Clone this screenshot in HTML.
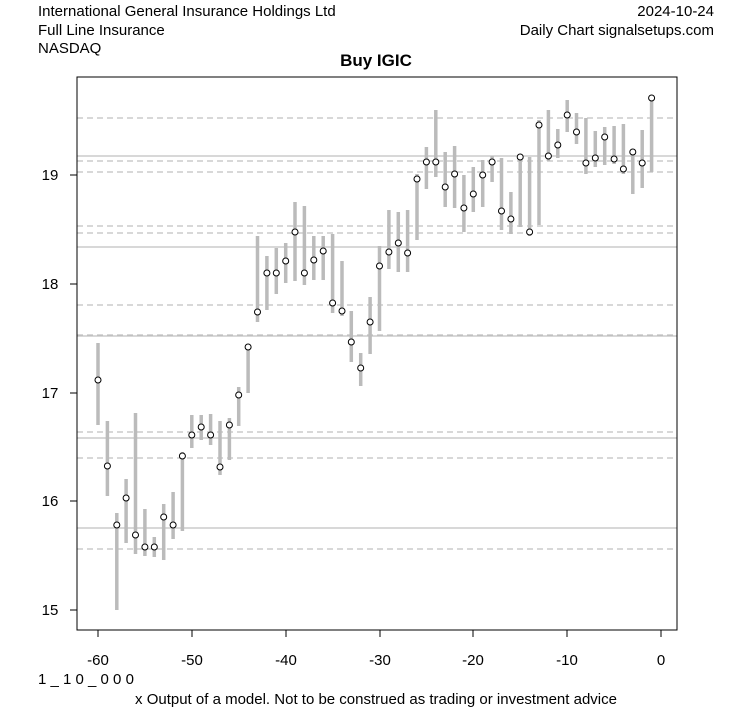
<html><head><style>body{margin:0;background:#fff}</style></head><body>
<svg width="753" height="708" xmlns="http://www.w3.org/2000/svg" font-family="Liberation Sans, sans-serif">
<rect width="753" height="708" fill="#fff"/>
<text x="38" y="16" font-size="15">International General Insurance Holdings Ltd</text>
<text x="38" y="35" font-size="15">Full Line Insurance</text>
<text x="38" y="53" font-size="15">NASDAQ</text>
<text x="714" y="16" font-size="15" text-anchor="end">2024-10-24</text>
<text x="714" y="35" font-size="15" text-anchor="end">Daily Chart signalsetups.com</text>
<text x="376" y="66" font-size="17" font-weight="bold" text-anchor="middle">Buy IGIC</text>
<g stroke="#c0c0c0" stroke-width="1.2">
<line x1="77" x2="677" y1="156" y2="156"/><line x1="77" x2="677" y1="247" y2="247"/><line x1="77" x2="677" y1="336" y2="336"/><line x1="77" x2="677" y1="438" y2="438"/><line x1="77" x2="677" y1="528" y2="528"/>
</g>
<g stroke="#c0c0c0" stroke-width="1.2" stroke-dasharray="6,4">
<line x1="77" x2="677" y1="118" y2="118"/><line x1="77" x2="677" y1="161" y2="161"/><line x1="77" x2="677" y1="172" y2="172"/><line x1="77" x2="677" y1="226" y2="226"/><line x1="77" x2="677" y1="233" y2="233"/><line x1="77" x2="677" y1="305" y2="305"/><line x1="77" x2="677" y1="335" y2="335"/><line x1="77" x2="677" y1="432" y2="432"/><line x1="77" x2="677" y1="458" y2="458"/><line x1="77" x2="677" y1="549" y2="549"/>
</g>
<g stroke="#bbb" stroke-width="3.5">
<line x1="98" x2="98" y1="343" y2="425"/>
<line x1="107.4" x2="107.4" y1="421" y2="496"/>
<line x1="116.8" x2="116.8" y1="513" y2="610"/>
<line x1="126.1" x2="126.1" y1="479" y2="543"/>
<line x1="135.5" x2="135.5" y1="413" y2="554"/>
<line x1="144.9" x2="144.9" y1="509" y2="556"/>
<line x1="154.3" x2="154.3" y1="537" y2="557"/>
<line x1="163.7" x2="163.7" y1="504" y2="560"/>
<line x1="173.1" x2="173.1" y1="492" y2="539"/>
<line x1="182.4" x2="182.4" y1="452" y2="531"/>
<line x1="191.8" x2="191.8" y1="415" y2="448"/>
<line x1="201.2" x2="201.2" y1="415" y2="440"/>
<line x1="210.6" x2="210.6" y1="414" y2="445"/>
<line x1="220" x2="220" y1="421" y2="475"/>
<line x1="229.4" x2="229.4" y1="418" y2="460"/>
<line x1="238.7" x2="238.7" y1="387" y2="426"/>
<line x1="248.1" x2="248.1" y1="345" y2="393"/>
<line x1="257.5" x2="257.5" y1="236" y2="322"/>
<line x1="266.9" x2="266.9" y1="256" y2="310"/>
<line x1="276.3" x2="276.3" y1="248" y2="294"/>
<line x1="285.7" x2="285.7" y1="243" y2="283"/>
<line x1="295" x2="295" y1="202" y2="281"/>
<line x1="304.4" x2="304.4" y1="206" y2="285"/>
<line x1="313.8" x2="313.8" y1="236" y2="280"/>
<line x1="323.2" x2="323.2" y1="236" y2="280"/>
<line x1="332.6" x2="332.6" y1="234" y2="313"/>
<line x1="342" x2="342" y1="261" y2="316"/>
<line x1="351.3" x2="351.3" y1="311" y2="362"/>
<line x1="360.7" x2="360.7" y1="353" y2="386"/>
<line x1="370.1" x2="370.1" y1="297" y2="354"/>
<line x1="379.5" x2="379.5" y1="246" y2="331"/>
<line x1="388.9" x2="388.9" y1="210" y2="269"/>
<line x1="398.3" x2="398.3" y1="212" y2="272"/>
<line x1="407.6" x2="407.6" y1="210" y2="272"/>
<line x1="417" x2="417" y1="174" y2="240"/>
<line x1="426.4" x2="426.4" y1="147" y2="189"/>
<line x1="435.8" x2="435.8" y1="110" y2="177"/>
<line x1="445.2" x2="445.2" y1="152" y2="207"/>
<line x1="454.6" x2="454.6" y1="146" y2="208"/>
<line x1="463.9" x2="463.9" y1="175" y2="232"/>
<line x1="473.3" x2="473.3" y1="167" y2="212"/>
<line x1="482.7" x2="482.7" y1="160" y2="207"/>
<line x1="492.1" x2="492.1" y1="156" y2="182"/>
<line x1="501.5" x2="501.5" y1="158" y2="230"/>
<line x1="510.9" x2="510.9" y1="192" y2="234"/>
<line x1="520.2" x2="520.2" y1="157" y2="227"/>
<line x1="529.6" x2="529.6" y1="157" y2="236"/>
<line x1="539" x2="539" y1="120" y2="225"/>
<line x1="548.4" x2="548.4" y1="110" y2="161"/>
<line x1="557.8" x2="557.8" y1="129" y2="158"/>
<line x1="567.2" x2="567.2" y1="100" y2="132"/>
<line x1="576.5" x2="576.5" y1="113" y2="144"/>
<line x1="585.9" x2="585.9" y1="118" y2="174"/>
<line x1="595.3" x2="595.3" y1="131" y2="167"/>
<line x1="604.7" x2="604.7" y1="127" y2="165"/>
<line x1="614.1" x2="614.1" y1="126" y2="164"/>
<line x1="623.4" x2="623.4" y1="124" y2="174"/>
<line x1="632.8" x2="632.8" y1="149" y2="194"/>
<line x1="642.2" x2="642.2" y1="130" y2="188"/>
<line x1="651.6" x2="651.6" y1="98" y2="172"/>
</g>
<g fill="#fff" stroke="#000" stroke-width="1">
<circle cx="98" cy="380" r="3"/><circle cx="107.4" cy="466" r="3"/><circle cx="116.8" cy="525" r="3"/><circle cx="126.1" cy="498" r="3"/><circle cx="135.5" cy="535" r="3"/><circle cx="144.9" cy="547" r="3"/><circle cx="154.3" cy="547" r="3"/><circle cx="163.7" cy="517" r="3"/><circle cx="173.1" cy="525" r="3"/><circle cx="182.4" cy="456" r="3"/><circle cx="191.8" cy="435" r="3"/><circle cx="201.2" cy="427" r="3"/><circle cx="210.6" cy="435" r="3"/><circle cx="220" cy="467" r="3"/><circle cx="229.4" cy="425" r="3"/><circle cx="238.7" cy="395" r="3"/><circle cx="248.1" cy="347" r="3"/><circle cx="257.5" cy="312" r="3"/><circle cx="266.9" cy="273" r="3"/><circle cx="276.3" cy="273" r="3"/><circle cx="285.7" cy="261" r="3"/><circle cx="295" cy="232" r="3"/><circle cx="304.4" cy="273" r="3"/><circle cx="313.8" cy="260" r="3"/><circle cx="323.2" cy="251" r="3"/><circle cx="332.6" cy="303" r="3"/><circle cx="342" cy="311" r="3"/><circle cx="351.3" cy="342" r="3"/><circle cx="360.7" cy="368" r="3"/><circle cx="370.1" cy="322" r="3"/><circle cx="379.5" cy="266" r="3"/><circle cx="388.9" cy="252" r="3"/><circle cx="398.3" cy="243" r="3"/><circle cx="407.6" cy="253" r="3"/><circle cx="417" cy="179" r="3"/><circle cx="426.4" cy="162" r="3"/><circle cx="435.8" cy="162" r="3"/><circle cx="445.2" cy="187" r="3"/><circle cx="454.6" cy="174" r="3"/><circle cx="463.9" cy="208" r="3"/><circle cx="473.3" cy="194" r="3"/><circle cx="482.7" cy="175" r="3"/><circle cx="492.1" cy="162" r="3"/><circle cx="501.5" cy="211" r="3"/><circle cx="510.9" cy="219" r="3"/><circle cx="520.2" cy="157" r="3"/><circle cx="529.6" cy="232" r="3"/><circle cx="539" cy="125" r="3"/><circle cx="548.4" cy="156" r="3"/><circle cx="557.8" cy="145" r="3"/><circle cx="567.2" cy="115" r="3"/><circle cx="576.5" cy="132" r="3"/><circle cx="585.9" cy="163" r="3"/><circle cx="595.3" cy="158" r="3"/><circle cx="604.7" cy="137" r="3"/><circle cx="614.1" cy="159" r="3"/><circle cx="623.4" cy="169" r="3"/><circle cx="632.8" cy="152" r="3"/><circle cx="642.2" cy="163" r="3"/><circle cx="651.6" cy="98" r="3"/>
</g>
<rect x="77" y="77" width="600" height="553" fill="none" stroke="#000"/>
<g stroke="#000">
<line x1="98" x2="661" y1="630" y2="630"/>
<line x1="98" x2="98" y1="630" y2="637"/><line x1="192" x2="192" y1="630" y2="637"/><line x1="286" x2="286" y1="630" y2="637"/><line x1="380" x2="380" y1="630" y2="637"/><line x1="473" x2="473" y1="630" y2="637"/><line x1="567" x2="567" y1="630" y2="637"/><line x1="661" x2="661" y1="630" y2="637"/>
<line x1="70" x2="77" y1="175" y2="175"/><line x1="70" x2="77" y1="284" y2="284"/><line x1="70" x2="77" y1="393" y2="393"/><line x1="70" x2="77" y1="501" y2="501"/><line x1="70" x2="77" y1="610" y2="610"/>
</g>
<g font-size="15" text-anchor="middle">
<text x="98" y="665">-60</text><text x="192" y="665">-50</text><text x="286" y="665">-40</text><text x="380" y="665">-30</text><text x="473" y="665">-20</text><text x="567" y="665">-10</text><text x="661" y="665">0</text>
<text x="50" y="180">19</text><text x="50" y="289">18</text><text x="50" y="398">17</text><text x="50" y="506">16</text><text x="50" y="615">15</text>
</g>
<text x="38" y="684" font-size="15">1 _ 1 0 _ 0 0 0</text>
<text x="376" y="704" font-size="15" text-anchor="middle">x Output of a model. Not to be construed as trading or investment advice</text>
</svg>
</body></html>
